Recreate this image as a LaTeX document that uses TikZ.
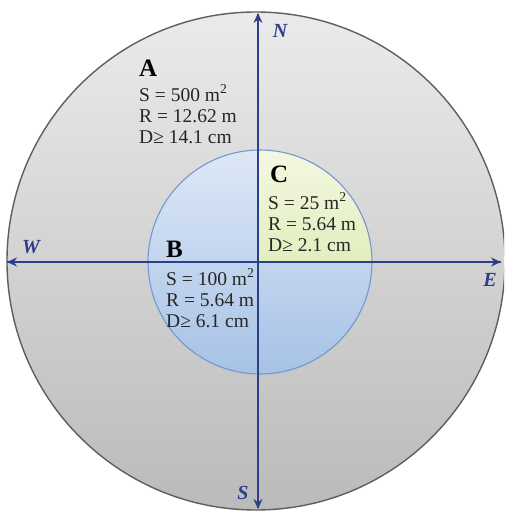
\documentclass[tikz,border=0pt]{standalone}
\usepackage{fontspec}
\setmainfont{Liberation Serif}
\usetikzlibrary{arrows.meta}
\definecolor{axisblue}{HTML}{2E3F8A}
\definecolor{rimgray}{HTML}{5E5E5E}
\definecolor{innerrim}{HTML}{7397CF}
\tikzset{
  axis/.style={draw=axisblue, line width=1.3pt, -{Stealth[length=10pt,width=9pt]}},
  dirlabel/.style={text=axisblue, font=\fontsize{20}{20}\selectfont\bfseries\itshape, inner sep=0pt},
  zonehead/.style={font=\fontsize{25}{25}\selectfont\bfseries, inner sep=0pt, anchor=base west},
  zonetext/.style={font=\fontsize{19.5}{21}\selectfont, inner sep=0pt, anchor=base west, align=left, text=black!85}
}
\begin{document}
\begin{tikzpicture}[x=1pt,y=-1pt]
\useasboundingbox (0,0) rectangle (504,511);
\begin{scope}
\clip (0,0) rectangle (504,511);
% outer circle
\shade[top color=black!8, bottom color=black!27] (256,261) circle[radius=249];
\draw[rimgray, line width=1.4pt] (256,261) circle[radius=249];
% inner circle
\shade[top color={rgb,255:red,222;green,232;blue,246}, bottom color={rgb,255:red,166;green,194;blue,230}] (260,262) circle[radius=112];
% quadrant C
\shade[top color={rgb,255:red,244;green,248;blue,226}, bottom color={rgb,255:red,226;green,238;blue,190}]
  (258,262) -- (258,150) arc[start angle=-91, end angle=0, radius=112] -- cycle;
\draw[innerrim, line width=1.1pt] (260,262) circle[radius=112];
\end{scope}
% axes
\coordinate (nEnd) at (258,13);
\coordinate (sEnd) at (258,509);
\coordinate (wEnd) at (7,262);
\coordinate (eEnd) at (501,262);
\coordinate (sStart) at (258,14);
\coordinate (nStart) at (258,508);
\draw[axis] (nStart) -- (nEnd);
\draw[axis] (sStart) -- (sEnd);
\draw[axis] (eEnd) -- (wEnd);
\draw[axis] (wEnd) -- (eEnd);
% direction labels
\node[dirlabel] (N) at (280,31) {N};
\node[dirlabel] (E) at (490,280) {E};
\node[dirlabel] (W) at (31,247) {W};
\node[dirlabel] (S) at (243,493) {S};
% zone A
\node[zonehead] (A) at (139,77) {A};
\node[zonetext] (Atext) at (139,143) {S = 500 m\textsuperscript{2}\\R = 12.62 m\\D≥ 14.1 cm};
% zone C
\node[zonehead] (C) at (270,182) {C};
\node[zonetext] (Ctext) at (268,251) {S = 25 m\textsuperscript{2}\\R = 5.64 m\\D≥ 2.1 cm};
% zone B
\node[zonehead] (B) at (166,257) {B};
\node[zonetext] (Btext) at (166,327) {S = 100 m\textsuperscript{2}\\R = 5.64 m\\D≥ 6.1 cm};
\end{tikzpicture}
\end{document}
